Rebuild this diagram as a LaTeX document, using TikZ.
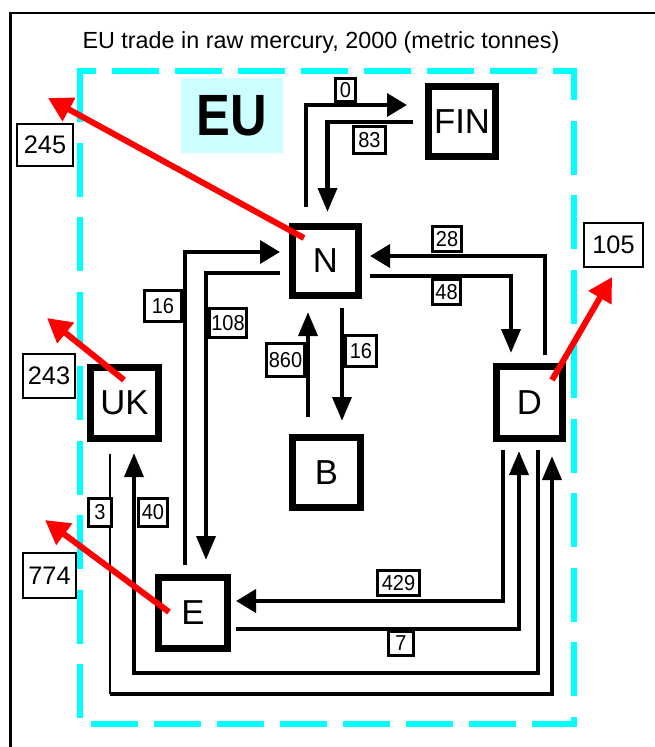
\documentclass[tikz,border=0pt]{standalone}
\usepackage{fontspec}
\setmainfont{Liberation Sans}
\usepackage{graphicx}
\usetikzlibrary{arrows.meta,calc}
\definecolor{cy}{RGB}{0,255,255}
\definecolor{eubg}{RGB}{204,255,255}
\newcommand\ys[2]{\scalebox{1}[#1]{#2}}
\begin{document}
\begin{tikzpicture}[x=0.75pt,y=-0.75pt,
  cbox/.style 2 args={draw, line width=5.25pt, minimum width=#1, minimum height=#2, inner sep=0pt, font=\fontsize{26}{26}\selectfont},
  lab/.style 2 args={draw, fill=white, line width=2.6pt, minimum width=#1, minimum height=#2, inner sep=0pt, font=\fontsize{15}{15}\selectfont},
  obox/.style 2 args={draw, fill=white, line width=1.5pt, minimum width=#1, minimum height=#2, inner sep=0pt, font=\fontsize{19}{19}\selectfont},
  flow/.style={line width=3.4pt, black},
  thinflow/.style={line width=2.2pt, black},
  harr/.style={-{Triangle[length=15pt,width=17pt]}},
  varr/.style={-{Triangle[length=18pt,width=14pt]}},
  redarr/.style={draw=red, line width=4.5pt, -{Triangle[length=18pt,width=19pt]}},
  cyline/.style={draw=cy, line width=4.5pt}
]
\useasboundingbox (0,0) rectangle (655,747);
% outer frame
\draw[line width=1.9pt] (10.3,760) -- (10.3,13.2) -- (670,13.2);
% dashed EU border
\draw[cyline, dash pattern=on 35.25pt off 12pt, dash phase=20.625pt] (76.5,71) -- (576.5,71);
\draw[cyline, dash pattern=on 35.25pt off 12pt, dash phase=36.375pt] (76.5,723.5) -- (576.5,723.5);
\draw[cyline, dash pattern=on 40.5pt off 15.375pt] (79.5,68) -- (79.5,726.5);
\draw[cyline, dash pattern=on 40.5pt off 15.375pt, dash phase=16.5pt] (573.5,68) -- (573.5,726.5);
% title and EU label
\node[anchor=base, inner sep=0pt, font=\fontsize{17.5}{17.5}\selectfont] (title) at (321,48) {EU trade in raw mercury, 2000 (metric tonnes)};
\node[fill=eubg, minimum width=76.5pt, minimum height=56.25pt, inner sep=0pt, font=\fontsize{38}{38}\selectfont\bfseries] (EU) at (232,115.5) {\ys{1.15}{EU}};
% country boxes
\node[cbox={50.25pt}{52.5pt}] (FIN) at (462,121.5) {FIN};
\node[cbox={49.5pt}{51.75pt}] (N) at (325.5,261) {N};
\node[cbox={51pt}{52.5pt}] (B) at (326.5,472.5) {B};
\node[cbox={51pt}{53.25pt}] (UK) at (124.5,403) {UK};
\node[cbox={49.5pt}{54pt}] (D) at (529.5,402.5) {D};
\node[cbox={51.75pt}{53.25pt}] (E) at (193,613) {E};
% outside totals
\node[obox={42pt}{31.5pt}] (o245) at (45,145) {245\hspace{5pt}};
\node[obox={39pt}{33pt}] (o243) at (49,376) {243\hspace{4pt}};
\node[obox={39.75pt}{33.75pt}] (o774) at (49.5,575.5) {774\hspace{4pt}};
\node[obox={44.25pt}{33pt}] (o105) at (613.5,245) {105\hspace{6pt}};
% flows
\draw[flow,harr] ([shift={(-19.5,-16)}]N.north) |- ([shift={(-18,-16.5)}]FIN.west);
\draw[flow,varr] ([shift={(-12,0.5)}]FIN.west) -| ([shift={(2,-11)}]N.north);
\draw[flow,harr] ([shift={(-8,-9)}]E.north) |- ([shift={(-9,-9)}]N.west);
\draw[flow,varr] ([shift={(-9,12)}]N.west) -| ([shift={(13,-14)}]E.north);
\draw[flow,varr] ([shift={(-18.5,-17)}]B.north) -- ([shift={(-17.5,13)}]N.south);
\draw[flow,varr] ([shift={(16.5,9)}]N.south) -- ([shift={(15.5,-13)}]B.north);
\draw[flow,harr] ([shift={(15.5,-8)}]D.north) |- ([shift={(8,-5)}]N.east);
\draw[flow,varr] ([shift={(8,15)}]N.east) -| ([shift={(-18.5,-10)}]D.north);
\draw[thinflow] ([shift={(-14.5,12)}]UK.south) -- ++(0,240) coordinate (c3);
\draw[flow,varr] (c3) -| ([shift={(22.5,14)}]D.south);
\draw[flow,varr] ([shift={(8.5,8)}]D.south) -- ++(0,223) -| ([shift={(9.5,11)}]UK.south);
\draw[flow,harr] ([shift={(-26.5,8)}]D.south) |- ([shift={(5,-12)}]E.east);
\draw[flow,varr] ([shift={(5,16)}]E.east) -| ([shift={(-10.5,9)}]D.south);
% flow labels
\node[lab={14.625pt}{16.875pt}] (l0) at (345.5,90) {\ys{1.08}{0}};
\node[lab={23.625pt}{19.875pt}] (l83) at (369.5,140) {\ys{1.08}{83}};
\node[lab={27.375pt}{22.875pt}] (l16a) at (163,306) {\ys{1.08}{16}};
\node[lab={27.375pt}{21.375pt}] (l108) at (228,323) {\ys{1.08}{108}};
\node[lab={28.125pt}{24.375pt}] (l860) at (285.5,360) {\ys{1.08}{860}};
\node[lab={22.875pt}{22.875pt}] (l16b) at (361,351) {\ys{1.08}{16}};
\node[lab={21.375pt}{18.375pt}] (l28) at (447,239) {\ys{1.08}{28}};
\node[lab={20.625pt}{18.375pt}] (l48) at (446.5,292) {\ys{1.08}{48}};
\node[lab={16.875pt}{20.625pt}] (l3) at (100,512.5) {\ys{1.08}{3}};
\node[lab={21.375pt}{20.625pt}] (l40) at (153,512.5) {\ys{1.08}{40}};
\node[lab={31.125pt}{18.375pt}] (l429) at (398.5,583) {\ys{1.08}{429}};
\node[lab={18.375pt}{17.625pt}] (l7) at (401,643.5) {\ys{1.08}{7}};
% exports out of the EU
\draw[redarr] ([shift={(15,15)}]N.north west) -- ([shift={(3,-25)}]o245.north);
\draw[redarr] ([shift={(-0.5,16)}]UK.north) -- ([shift={(-2,-35)}]o243.north);
\draw[redarr] ([shift={(14,-1)}]E.west) -- ([shift={(-4.5,-32)}]o774.north);
\draw[redarr] ([shift={(22.5,17)}]D.north) -- ([shift={(-1.5,9)}]o105.south);
\end{tikzpicture}
\end{document}
